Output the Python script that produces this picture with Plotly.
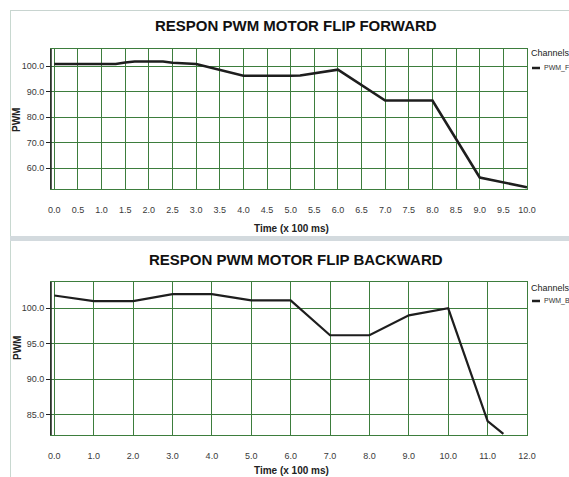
import plotly.graph_objects as go

# ---- data ----
fwd_time = [0.0, 1.0, 1.3, 1.5, 1.7, 2.3, 2.5, 3.0, 4.0, 5.0, 5.2, 6.0, 7.0, 8.0, 9.0, 10.0]
fwd_pwm = [100.8, 100.8, 100.8, 101.4, 101.8, 101.8, 101.3, 100.8, 96.2, 96.2, 96.3, 98.6, 86.5, 86.5, 56.3, 52.5]

bwd_time = [0.0, 1.0, 2.0, 3.0, 4.0, 5.0, 6.0, 7.0, 8.0, 9.0, 10.0, 11.0, 11.4]
bwd_pwm = [101.8, 101.0, 101.0, 102.0, 102.0, 101.1, 101.1, 96.2, 96.2, 99.0, 100.0, 84.1, 82.3]

fwd_xticks = [0.0, 0.5, 1.0, 1.5, 2.0, 2.5, 3.0, 3.5, 4.0, 4.5, 5.0, 5.5, 6.0, 6.5, 7.0, 7.5, 8.0, 8.5, 9.0, 9.5, 10.0]
bwd_xticks = [0.0, 1.0, 2.0, 3.0, 4.0, 5.0, 6.0, 7.0, 8.0, 9.0, 10.0, 11.0, 12.0]
fwd_yticks = [60, 70, 80, 90, 100]
bwd_yticks = [85, 90, 95, 100]

titles = ["RESPON PWM MOTOR FLIP FORWARD", "RESPON PWM MOTOR FLIP BACKWARD"]
channel_names = ["PWM_F", "PWM_B"]
axis_x_title = "Time (x 100 ms)"
axis_y_title = "PWM"

OFF = 0
W, H = 569 - OFF, 477 - OFF
L = 51 - OFF
R = 569 - 527
PW = W - L - R
FONT = "Liberation Sans Narrow, Arial Narrow, Liberation Sans, Arial, sans-serif"
GRID = "#3d7d3d"
LINE = "#1e1e1e"

def px_x(x):
    return (x - OFF - L) / PW

def px_y(y):
    return 1 - (y - OFF) / H

fig = go.Figure()
fig.add_trace(go.Scatter(x=fwd_time, y=fwd_pwm, mode="lines", name=channel_names[0],
                         line=dict(color=LINE, width=2.6), xaxis="x", yaxis="y", showlegend=False))
fig.add_trace(go.Scatter(x=bwd_time, y=bwd_pwm, mode="lines", name=channel_names[1],
                         line=dict(color=LINE, width=2.2), xaxis="x2", yaxis="y2", showlegend=False))

xcommon = dict(showgrid=True, gridcolor=GRID, gridwidth=1, zeroline=False,
               showline=True, linecolor=GRID, linewidth=1, mirror=True,
               ticks="outside", ticklen=12, tickcolor="rgba(0,0,0,0)",
               tickfont=dict(family=FONT, size=9, color="#3a3a3a"))
ycommon = dict(showgrid=True, gridcolor=GRID, gridwidth=1, zeroline=False,
               showline=True, linecolor=GRID, linewidth=1, mirror=True,
               ticks="outside", ticklen=4, tickcolor="#222",
               tickfont=dict(family=FONT, size=9, color="#3a3a3a"))

fig.update_layout(
    width=W, height=H,
    margin=dict(l=L, r=R, t=0, b=0),
    paper_bgcolor="white", plot_bgcolor="white",
    xaxis=dict(xcommon, domain=[0, 1], range=[-0.07, 10], tickvals=fwd_xticks,
               ticktext=[f"{v:.1f}" for v in fwd_xticks], anchor="y"),
    yaxis=dict(ycommon, domain=[px_y(189), px_y(49)], range=[51.8, 106.7], tickvals=fwd_yticks,
               ticktext=[f"{v:.1f}" for v in fwd_yticks], anchor="x"),
    xaxis2=dict(xcommon, domain=[0, 1], range=[-0.084, 12], tickvals=bwd_xticks,
                ticktext=[f"{v:.1f}" for v in bwd_xticks], anchor="y2"),
    yaxis2=dict(ycommon, domain=[px_y(435), px_y(282)], range=[82.15, 103.7], tickvals=bwd_yticks,
                ticktext=[f"{v:.1f}" for v in bwd_yticks], anchor="x2"),
)

annotations = []
shapes = []
for i, (ty, ly, xy, cy, py) in enumerate([(25, 120, 228, 53, 68), (259, 348, 470, 288, 301)]):
    annotations.append(dict(text=f"<b>{titles[i]}</b>", x=px_x(296), y=px_y(ty), xref="paper", yref="paper",
                            showarrow=False, xanchor="center", yanchor="middle",
                            font=dict(family=FONT, size=15, color="#111")))
    annotations.append(dict(text=f"<b>{axis_y_title}</b>", x=px_x(17), y=px_y(ly), xref="paper", yref="paper",
                            showarrow=False, textangle=-90, xanchor="center", yanchor="middle",
                            font=dict(family=FONT, size=10, color="#222")))
    annotations.append(dict(text=f"<b>{axis_x_title}</b>", x=px_x(291), y=px_y(xy), xref="paper", yref="paper",
                            showarrow=False, xanchor="center", yanchor="middle",
                            font=dict(family=FONT, size=10, color="#222")))
    annotations.append(dict(text="Channels", x=px_x(529), y=px_y(cy), xref="paper", yref="paper",
                            showarrow=False, xanchor="left", yanchor="middle",
                            font=dict(family=FONT, size=9, color="#222")))
    annotations.append(dict(text=channel_names[i], x=px_x(542), y=px_y(py), xref="paper", yref="paper",
                            showarrow=False, xanchor="left", yanchor="middle",
                            font=dict(family=FONT, size=7, color="#333")))
    shapes.append(dict(type="line", xref="paper", yref="paper", x0=px_x(532), x1=px_x(540),
                       y0=px_y(py), y1=px_y(py), line=dict(color=LINE, width=2.5)))

# left axis dark lines
for xr, yr in [("x domain", "y domain"), ("x2 domain", "y2 domain")]:
    shapes.append(dict(type="line", xref=xr, yref=yr,
                       x0=0, x1=0, y0=0, y1=1, line=dict(color="#222", width=1.5)))

# frame / separator
shapes.append(dict(type="line", xref="paper", yref="paper", x0=px_x(10), x1=px_x(569), y0=px_y(10.5), y1=px_y(10.5),
                   line=dict(color="#c8d4d0", width=1)))
shapes.append(dict(type="line", xref="paper", yref="paper", x0=px_x(10.5), x1=px_x(10.5), y0=px_y(477), y1=px_y(10),
                   line=dict(color="#c8d8d0", width=1)))
shapes.append(dict(type="rect", xref="paper", yref="paper", x0=px_x(10), x1=px_x(569), y0=px_y(241), y1=px_y(236),
                   fillcolor="#d3dade", line=dict(width=0), layer="above"))

fig.update_layout(annotations=annotations, shapes=shapes)
fig.write_html("out.html", config={"displayModeBar": False},
               post_script="document.body.style.margin='0';document.body.style.overflow='hidden';")
